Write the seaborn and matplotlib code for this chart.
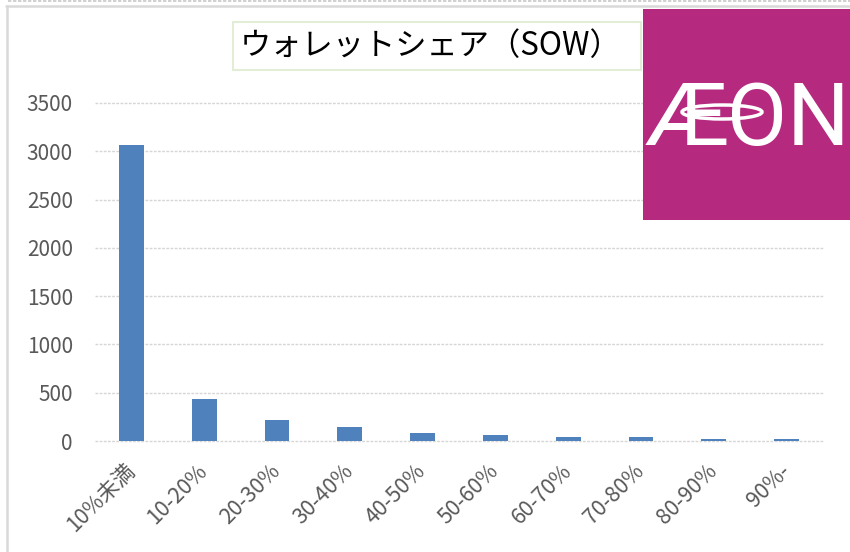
import matplotlib
matplotlib.use("Agg")
import matplotlib.pyplot as plt
import seaborn as sns
import pandas as pd
from matplotlib.patches import Rectangle, Ellipse
from matplotlib.lines import Line2D

categories = ["10%未満", "10-20%", "20-30%", "30-40%", "40-50%",
              "50-60%", "60-70%", "70-80%", "80-90%", "90%-"]
values = [3060, 430, 220, 140, 80, 60, 45, 45, 25, 25]
yticks = [0, 500, 1000, 1500, 2000, 2500, 3000, 3500]
title = "ウォレットシェア（SOW）"
logo_text = "ÆON"

sns.set_style("white")
plt.rcParams['font.family'] = ['Noto Sans CJK JP', 'DejaVu Sans']

W, H = 850, 552
fig = plt.figure(figsize=(W / 100, H / 100), dpi=100)
ax = fig.add_axes([95 / W, 1 - 441 / H, 728 / W, 338 / H])

df = pd.DataFrame({"cat": categories, "val": values})
sns.barplot(data=df, x="cat", y="val", color="#4F81BD", saturation=1,
            width=0.34, ax=ax, edgecolor="none")

ax.set_xlim(-0.5, len(categories) - 0.5)
ax.set_ylim(0, 3500)
ax.set_yticks(yticks)
ax.set_yticklabels([str(v) for v in yticks])
ax.set_xlabel("")
ax.set_ylabel("")
for s in ax.spines.values():
    s.set_visible(False)
ax.grid(axis="y", color="#D6D6D6", linestyle=(0, (2, 1)), linewidth=1.0)
for gl in ax.get_ygridlines():
    gl.set_clip_on(False)
ax.set_axisbelow(True)
ax.tick_params(axis="y", length=0, pad=16, labelsize=15, labelcolor="#595959")
ax.tick_params(axis="x", length=0, pad=19, labelsize=15.5, labelcolor="#595959")
for lab in ax.get_xticklabels():
    lab.set_rotation(45)
    lab.set_ha("right")
    lab.set_va("center")
    lab.set_rotation_mode("anchor")

# chart border
fig.add_artist(Line2D([7 / W, 7 / W], [0, 1 - 6 / H], transform=fig.transFigure,
                      color="#D9D9D9", lw=1.8))
fig.add_artist(Line2D([6 / W, 1], [1 - 6 / H, 1 - 6 / H], transform=fig.transFigure,
                      color="#D9D9D9", lw=1.8))
fig.add_artist(Line2D([8 / W, 1], [1 - 1 / H, 1 - 1 / H], transform=fig.transFigure,
                      color="#C8C8C8", lw=1.2, linestyle=(0, (2, 1))))

# title box
fig.add_artist(Rectangle((233 / W, 1 - 70 / H), 408 / W, 48 / H, transform=fig.transFigure,
                         facecolor="white", edgecolor="#E2EDD6", lw=1.5))
fig.text(240 / W, 1 - 46 / H, title, fontsize=22.5, color="black",
         ha="left", va="center", family=['Noto Sans CJK JP', 'DejaVu Sans'])

# logo
fig.add_artist(Rectangle((643 / W, 1 - 220 / H), 207 / W, 211 / H, transform=fig.transFigure,
                         facecolor="#B5297F", edgecolor="none"))
fig.text(748 / W, 1 - 145 / H, logo_text, fontsize=63, color="white", ha="center",
         va="baseline", family=["Roboto", "DejaVu Sans"], fontweight="normal")
fig.add_artist(Ellipse((722 / W, 1 - 112 / H), 80 / W, 14 / H, transform=fig.transFigure,
                       facecolor="none", edgecolor="white", lw=2.5))

fig.savefig("out.png", dpi=100)
